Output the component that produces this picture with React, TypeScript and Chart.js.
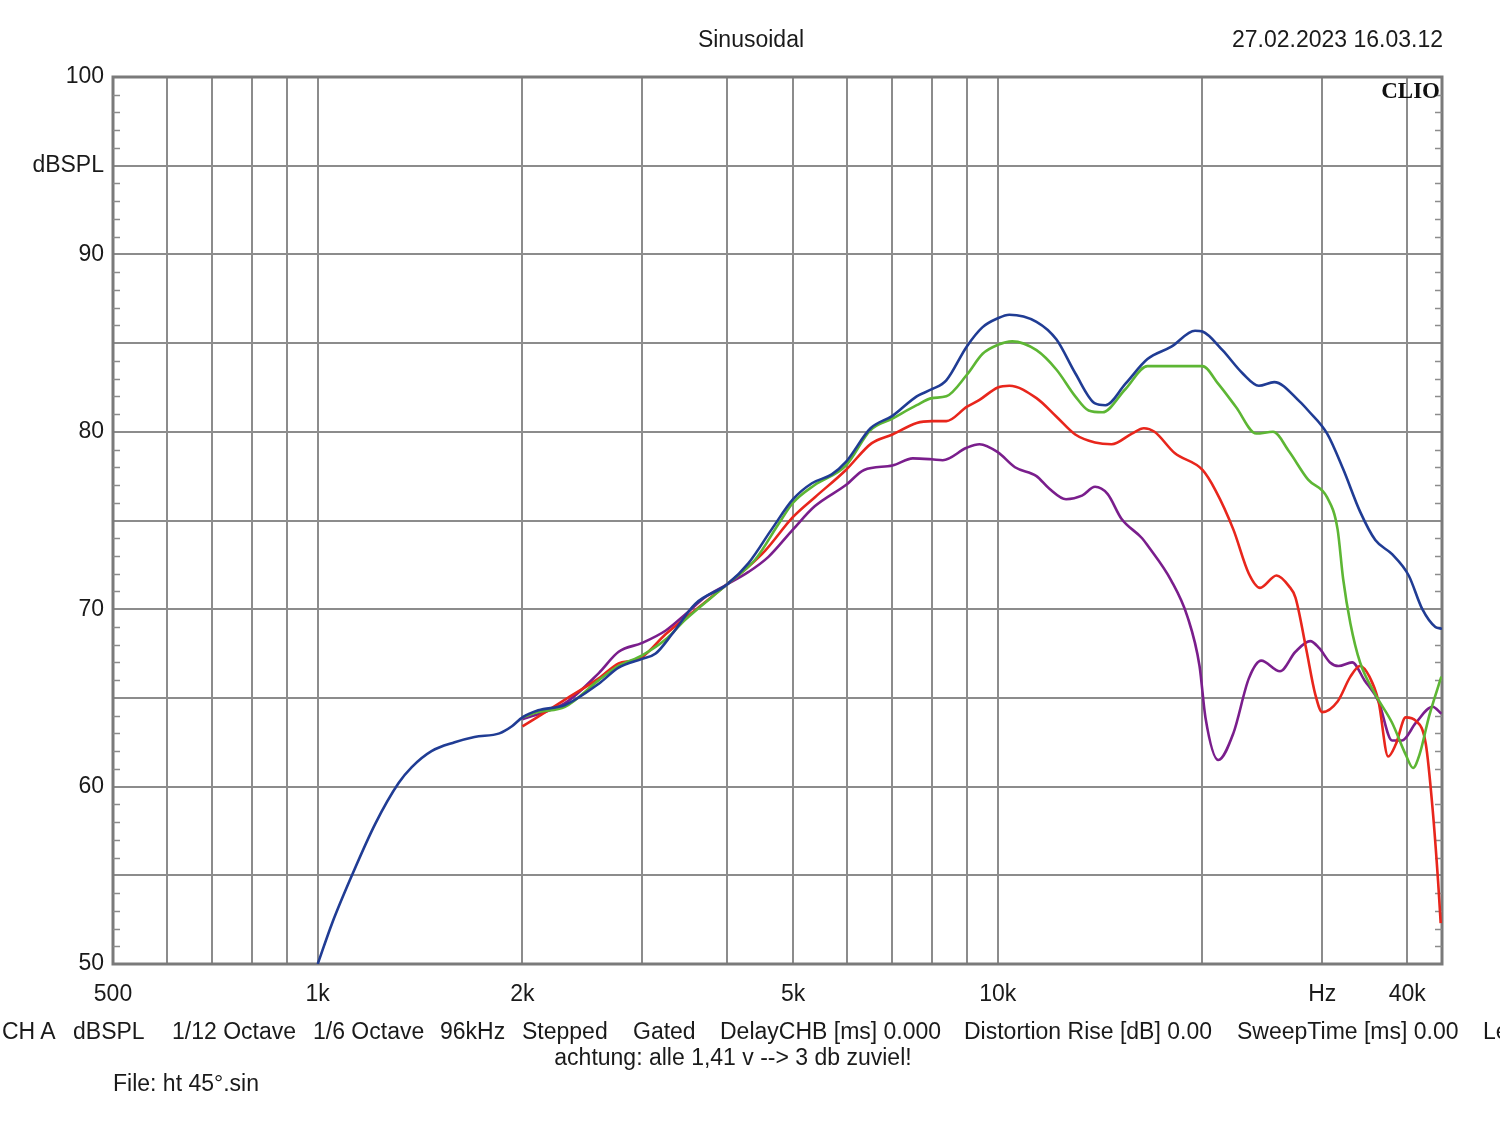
import React, { useEffect, useRef } from "react";
import { Chart, registerables } from "chart.js";

Chart.register(...registerables);

// ---- axis ticks ----
const xTickValues = [500, 600, 700, 800, 900, 1000, 2000, 3000, 4000, 5000, 6000, 7000, 8000, 9000, 10000, 20000, 30000, 40000];
const xTickLabels: Record<number, string> = { 500: "500", 1000: "1k", 2000: "2k", 5000: "5k", 10000: "10k", 30000: "Hz", 40000: "40k" };
const yTickValues = [50, 55, 60, 65, 70, 75, 80, 85, 90, 95, 100];
const yTickLabels: Record<number, string> = { 100: "100", 95: "dBSPL", 90: "90", 80: "80", 70: "70", 60: "60", 50: "50" };

// ---- series (Hz, dBSPL) ----
const blueFreq = [1000, 1050, 1120, 1215, 1315, 1375, 1470, 1590, 1700, 1850, 1930, 2000, 2110, 2310, 2590, 2770, 3000, 3140, 3320, 3590, 4000, 4300, 4650, 5000, 5330, 5700, 5980, 6500, 7000, 7600, 8000, 8400, 9000, 9500, 10000, 10400, 11400, 12200, 13000, 13900, 14400, 15400, 16600, 18000, 19500, 20000, 21400, 22900, 24200, 25500, 27800, 28600, 30500, 32200, 34100, 35900, 38000, 40200, 42100, 44000, 45000];
const blueDb = [50.0, 52.3, 54.9, 57.9, 60.2, 61.1, 62.0, 62.5, 62.8, 63.0, 63.4, 63.9, 64.3, 64.6, 65.8, 66.7, 67.2, 67.5, 68.6, 70.3, 71.4, 72.6, 74.5, 76.2, 77.1, 77.6, 78.3, 80.2, 80.9, 82.0, 82.4, 82.9, 84.8, 85.9, 86.4, 86.6, 86.2, 85.2, 83.3, 81.6, 81.5, 82.7, 84.1, 84.8, 85.7, 85.65, 84.6, 83.3, 82.6, 82.8, 81.7, 81.2, 79.9, 77.9, 75.5, 73.9, 73.1, 71.9, 70.0, 69.0, 68.9];

const greenFreq = [2000, 2110, 2310, 2590, 2770, 3000, 3250, 3470, 4000, 4400, 4760, 5000, 5380, 5980, 6500, 7000, 7600, 8000, 8400, 9000, 9500, 10000, 10500, 11400, 12200, 13000, 13600, 14250, 15400, 16600, 18700, 20000, 21100, 22400, 24000, 25400, 26800, 28600, 30500, 31600, 32200, 33000, 34100, 35900, 38000, 39800, 40800, 41700, 43100, 44900];
const greenDb = [63.9, 64.2, 64.5, 66.0, 66.8, 67.4, 68.3, 69.4, 71.4, 72.8, 74.8, 76.0, 77.0, 78.1, 80.1, 80.75, 81.5, 81.9, 82.0, 83.2, 84.4, 84.9, 85.1, 84.6, 83.5, 82.0, 81.2, 81.1, 82.4, 83.7, 83.7, 83.7, 82.7, 81.4, 79.9, 80.0, 78.9, 77.3, 76.3, 74.5, 71.7, 69.2, 67.0, 65.2, 63.6, 61.8, 61.05, 61.8, 64.0, 66.2];

const redFreq = [2000, 2110, 2310, 2590, 2770, 2900, 3000, 3250, 3550, 4000, 4300, 4550, 5000, 5380, 5980, 6520, 7000, 7600, 8000, 8400, 9000, 9400, 10000, 10400, 11400, 12200, 13000, 13900, 14700, 15750, 16400, 17000, 18200, 20000, 20900, 22200, 23400, 24300, 25700, 26800, 27400, 28400, 29300, 30000, 31600, 33000, 34100, 35200, 36300, 37500, 38500, 39800, 41200, 42600, 43600, 44400, 44800];
const redDb = [63.4, 63.95, 64.9, 66.1, 66.95, 67.1, 67.3, 68.6, 69.8, 71.4, 72.4, 73.3, 75.2, 76.3, 77.85, 79.35, 79.85, 80.5, 80.6, 80.6, 81.4, 81.8, 82.5, 82.6, 81.9, 80.85, 79.85, 79.4, 79.3, 79.9, 80.2, 80.0, 78.8, 77.85, 76.7, 74.5, 72.0, 71.2, 71.9, 71.3, 70.65, 67.8, 65.2, 64.2, 64.8, 66.2, 66.8, 66.2, 64.8, 61.7, 62.4, 63.9, 63.7, 62.4, 58.7, 54.7, 52.3];

const purpleFreq = [2000, 2310, 2590, 2770, 3000, 3250, 3470, 3720, 4000, 4300, 4600, 5000, 5380, 5980, 6360, 7000, 7500, 8000, 8300, 9000, 9400, 10000, 10600, 11400, 11900, 12600, 13300, 13900, 14500, 15200, 16300, 16600, 18000, 19000, 19800, 20200, 21100, 22200, 23400, 24400, 26000, 27400, 28800, 29700, 30800, 31700, 33200, 34600, 36300, 38000, 39300, 41200, 43600, 44900];
const purpleDb = [63.8, 64.7, 66.4, 67.6, 68.1, 68.8, 69.7, 70.7, 71.4, 72.1, 72.95, 74.5, 75.8, 77.0, 77.85, 78.1, 78.5, 78.45, 78.4, 79.1, 79.3, 78.85, 78.0, 77.5, 76.8, 76.2, 76.4, 76.9, 76.5, 75.1, 74.0, 73.6, 71.6, 69.6, 66.8, 63.9, 61.5, 63.0, 66.1, 67.1, 66.5, 67.6, 68.2, 67.8, 67.0, 66.8, 67.0, 66.0, 64.8, 62.6, 62.6, 63.6, 64.5, 64.1];

// ---- texts ----
const footerItems: [string, number][] = [
  ["CH A", 2],
  ["dBSPL", 73],
  ["1/12 Octave", 172],
  ["1/6 Octave", 313],
  ["96kHz", 440],
  ["Stepped", 522],
  ["Gated", 633],
  ["DelayCHB [ms] 0.000", 720],
  ["Distortion Rise [dB] 0.00", 964],
  ["SweepTime [ms] 0.00", 1237],
  ["Le", 1483],
];

const FONT = '"Liberation Sans", Arial, sans-serif';
const GRID = "#8c8c8c";

const toPoints = (f: number[], d: number[]) => f.map((x, i) => ({ x, y: d[i] }));

const framePlugin = {
  id: "clioFrame",
  beforeDatasetsDraw(chart: any) {
    const { ctx, chartArea } = chart;
    const ys = chart.scales.y;
    ctx.save();
    ctx.strokeStyle = "#7a7a7a";
    ctx.lineWidth = 3;
    ctx.strokeRect(chartArea.left, chartArea.top, chartArea.right - chartArea.left, chartArea.bottom - chartArea.top);
    ctx.lineWidth = 1.5;
    ctx.strokeStyle = GRID;
    for (let v = 51; v < 100; v++) {
      if (v % 5 === 0) continue;
      const y = Math.round(ys.getPixelForValue(v)) + 0.5;
      ctx.beginPath();
      ctx.moveTo(chartArea.left, y);
      ctx.lineTo(chartArea.left + 7, y);
      ctx.moveTo(chartArea.right - 7, y);
      ctx.lineTo(chartArea.right, y);
      ctx.stroke();
    }
    ctx.restore();
  },
};

const abs = (left: number, top: number, extra: React.CSSProperties = {}): React.CSSProperties => ({
  position: "absolute",
  left,
  top,
  fontFamily: FONT,
  fontSize: 23,
  lineHeight: "23px",
  color: "#1a1a1a",
  whiteSpace: "pre",
  ...extra,
});

export default function App() {
  const ref = useRef<HTMLCanvasElement | null>(null);

  useEffect(() => {
    if (!ref.current) return;
    const ds = (label: string, f: number[], d: number[], color: string, order: number) => ({
      label,
      data: toPoints(f, d),
      showLine: true,
      borderColor: color,
      backgroundColor: color,
      borderWidth: 2.6,
      pointRadius: 0,
      cubicInterpolationMode: "monotone" as const,
      order,
    });
    const chart = new Chart(ref.current, {
      type: "scatter",
      data: {
        datasets: [
          ds("0°", blueFreq, blueDb, "#203c94", 0),
          ds("15°", greenFreq, greenDb, "#5db634", 1),
          ds("30°", redFreq, redDb, "#e8261c", 2),
          ds("45°", purpleFreq, purpleDb, "#7a1e8c", 3),
        ],
      },
      options: {
        animation: false,
        responsive: false,
        maintainAspectRatio: false,
        events: [],
        layout: { padding: { left: 0, top: 77, right: 58, bottom: 0 } },
        plugins: { legend: { display: false }, tooltip: { enabled: false }, title: { display: false } },
        scales: {
          x: {
            type: "logarithmic",
            position: "bottom",
            min: 500,
            max: 45000,
            afterBuildTicks: (s: any) => {
              s.ticks = xTickValues.map((v) => ({ value: v }));
            },
            afterFit: (s: any) => {
              s.height = 157;
            },
            ticks: {
              autoSkip: false,
              maxRotation: 0,
              minRotation: 0,
              padding: 17,
              color: "#1a1a1a",
              font: { family: FONT, size: 23 },
              callback: (v: any) => xTickLabels[Number(v)] ?? "",
            },
            grid: { color: GRID, lineWidth: 2, drawTicks: false },
            border: { display: false },
          },
          y: {
            type: "linear",
            min: 50,
            max: 100,
            afterBuildTicks: (s: any) => {
              s.ticks = yTickValues.map((v) => ({ value: v }));
            },
            afterFit: (s: any) => {
              s.width = 113;
            },
            ticks: {
              padding: 9,
              color: "#1a1a1a",
              font: { family: FONT, size: 23 },
              callback: (v: any) => yTickLabels[Number(v)] ?? "",
            },
            grid: { color: GRID, lineWidth: 2, drawTicks: false },
            border: { display: false },
          },
        },
      } as any,
      plugins: [framePlugin],
    });
    return () => chart.destroy();
  }, []);

  return (
    <div style={{ position: "fixed", left: 0, top: 0, width: 1500, height: 1121, background: "#fff", overflow: "hidden" }}>
      <canvas ref={ref} width={1500} height={1121} style={{ position: "absolute", left: 0, top: 0, width: 1500, height: 1121 }} />
      <div style={abs(0, 28, { width: 1502, textAlign: "center" })}>Sinusoidal</div>
      <div style={abs(0, 28, { width: 1443, textAlign: "right" })}>27.02.2023 16.03.12</div>
      <div style={abs(0, 79, { width: 1440, textAlign: "right", fontFamily: '"Liberation Serif", "DejaVu Serif", serif', fontWeight: 700, fontSize: 23, color: "#111" })}>CLIO</div>
      {footerItems.map(([t, x]) => (
        <div key={t} style={abs(x, 1020)}>{t}</div>
      ))}
      <div style={abs(0, 1046, { width: 1466, textAlign: "center" })}>achtung: alle 1,41 v --&gt; 3 db zuviel!</div>
      <div style={abs(113, 1072)}>File: ht 45°.sin</div>
    </div>
  );
}
